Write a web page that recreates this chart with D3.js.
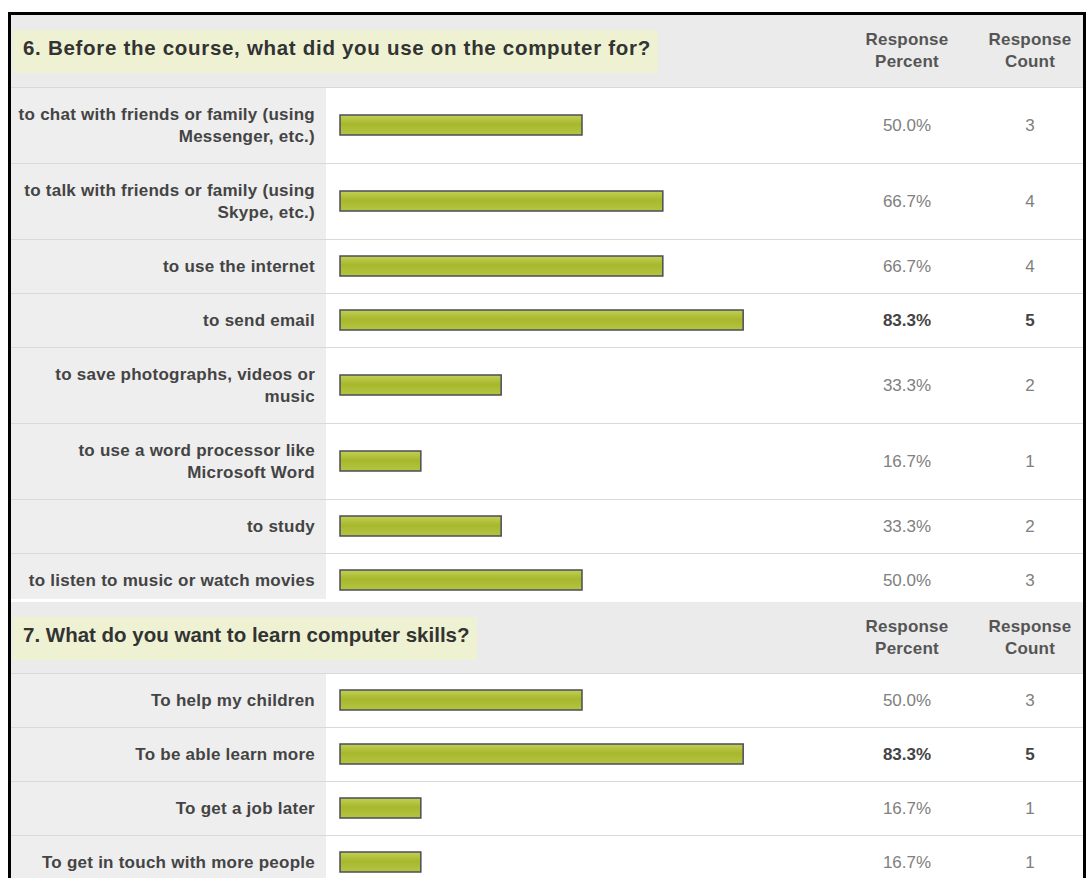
<!DOCTYPE html>
<html>
<head>
<meta charset="utf-8">
<script src="https://cdn.jsdelivr.net/npm/d3@7"></script>
<style>
  html, body { margin: 0; padding: 0; background: #ffffff; }
  svg { display: block; }
  text { font-family: Arial, "Liberation Sans", sans-serif; }
</style>
</head>
<body>
<svg id="chart" width="1087" height="878"></svg>
<script>
// ---------------- DATA ----------------
const q6Title = "6. Before the course, what did you use on the computer for?";
const q6Categories = [
  "to chat with friends or family (using\nMessenger, etc.)",
  "to talk with friends or family (using\nSkype, etc.)",
  "to use the internet",
  "to send email",
  "to save photographs, videos or\nmusic",
  "to use a word processor like\nMicrosoft Word",
  "to study",
  "to listen to music or watch movies"
];
const q6Percent = [50.0, 66.7, 66.7, 83.3, 33.3, 16.7, 33.3, 50.0];
const q6Count = [3, 4, 4, 5, 2, 1, 2, 3];

const q7Title = "7. What do you want to learn computer skills?";
const q7Categories = [
  "To help my children",
  "To be able learn more",
  "To get a job later",
  "To get in touch with more people"
];
const q7Percent = [50.0, 83.3, 16.7, 16.7];
const q7Count = [3, 5, 1, 1];

const columnHeaders = [["Response", "Percent"], ["Response", "Count"]];

// ---------------- LAYOUT ----------------
const svg = d3.select("#chart");
const innerL = 11, innerR = 1083;
const labelColR = 326;
const labelX = 315;
const pctX = 907, cntX = 1030;
const barH = 20;
const x = d3.scaleLinear().domain([0, 100]).range([340, 824]);
const fmtPct = d => d3.format(".1f")(d) + "%";

const defs = svg.append("defs");
const grad = defs.append("linearGradient").attr("id", "barGrad")
  .attr("x1", 0).attr("y1", 0).attr("x2", 0).attr("y2", 1);
grad.append("stop").attr("offset", "0%").attr("stop-color", "#c3d055");
grad.append("stop").attr("offset", "45%").attr("stop-color", "#a7b82d");
grad.append("stop").attr("offset", "100%").attr("stop-color", "#b4c441");

function drawSection(g, top, headerH, title, titleSpacing, hlW, cats, pcts, counts) {
  g.append("rect").attr("x", innerL).attr("y", top).attr("width", innerR - innerL)
    .attr("height", headerH).attr("fill", "#ebebeb");
  g.append("rect").attr("x", 13).attr("y", top + 15).attr("width", hlW)
    .attr("height", 43).attr("fill", "#eef2d2");
  g.append("text").attr("x", 23).attr("y", top + 33).attr("dy", "0.35em")
    .attr("font-size", 20.5).attr("font-weight", "bold").attr("fill", "#333")
    .attr("letter-spacing", titleSpacing)
    .text(title);
  [pctX, cntX].forEach((cx, i) => {
    const t = g.append("text").attr("text-anchor", "middle")
      .attr("font-size", 17).attr("font-weight", "bold").attr("fill", "#555")
      .attr("letter-spacing", 0.2);
    columnHeaders[i].forEach((s, j) => {
      t.append("tspan").attr("x", cx).attr("y", top + 24 + j * 22).attr("dy", "0.35em").text(s);
    });
  });

  const maxV = d3.max(pcts);
  let y0 = top + headerH;
  const rows = cats.map((c, i) => {
    const lines = c.split("\n");
    const h = lines.length > 1 ? 76 : 54;
    const r = { label: lines, pct: pcts[i], cnt: counts[i], y: y0, h: h };
    y0 += h;
    return r;
  });

  const rg = g.selectAll("g.row").data(rows).join("g").attr("class", "row");
  rg.append("rect").attr("x", innerL).attr("y", d => d.y)
    .attr("width", labelColR - innerL).attr("height", d => d.h).attr("fill", "#eeeeee");
  rg.append("rect").attr("x", labelColR).attr("y", d => d.y)
    .attr("width", innerR - labelColR).attr("height", d => d.h).attr("fill", "#ffffff");
  rg.append("line").attr("x1", innerL).attr("x2", innerR)
    .attr("y1", d => d.y + 0.5).attr("y2", d => d.y + 0.5)
    .attr("stroke", "#d9d9d9").attr("stroke-width", 1);

  rg.each(function(d) {
    const sel = d3.select(this);
    const cy = d.y + d.h / 2;
    const t = sel.append("text").attr("text-anchor", "end")
      .attr("font-size", 17).attr("font-weight", "bold").attr("fill", "#444")
      .attr("letter-spacing", 0.25);
    const n = d.label.length;
    d.label.forEach((s, j) => {
      t.append("tspan").attr("x", labelX)
        .attr("y", cy + (j - (n - 1) / 2) * 22).attr("dy", "0.35em").text(s);
    });
    sel.append("rect").attr("x", x(0)).attr("y", cy - barH / 2)
      .attr("width", x(d.pct) - x(0)).attr("height", barH)
      .attr("fill", "url(#barGrad)").attr("stroke", "#4c4c5a").attr("stroke-width", 1.5);
    const isMax = d.pct === maxV;
    sel.append("text").attr("x", pctX).attr("y", cy).attr("dy", "0.35em")
      .attr("text-anchor", "middle").attr("font-size", 17)
      .attr("font-weight", isMax ? "bold" : "normal")
      .attr("fill", isMax ? "#444" : "#808080").text(fmtPct(d.pct));
    sel.append("text").attr("x", cntX).attr("y", cy).attr("dy", "0.35em")
      .attr("text-anchor", "middle").attr("font-size", 17)
      .attr("font-weight", isMax ? "bold" : "normal")
      .attr("fill", isMax ? "#444" : "#808080").text(d.cnt);
  });
}

const s1 = svg.append("g");
drawSection(s1, 15, 72, q6Title, 0.7, 645, q6Categories, q6Percent, q6Count);
svg.append("rect").attr("x", innerL).attr("y", 599).attr("width", innerR - innerL)
  .attr("height", 3).attr("fill", "#ffffff");
const s2 = svg.append("g");
drawSection(s2, 602, 71, q7Title, 0, 464, q7Categories, q7Percent, q7Count);

svg.append("rect").attr("x", 9.5).attr("y", 13.5).attr("width", 1075).attr("height", 900)
  .attr("fill", "none").attr("stroke", "#000").attr("stroke-width", 3);
</script>
</body>
</html>
